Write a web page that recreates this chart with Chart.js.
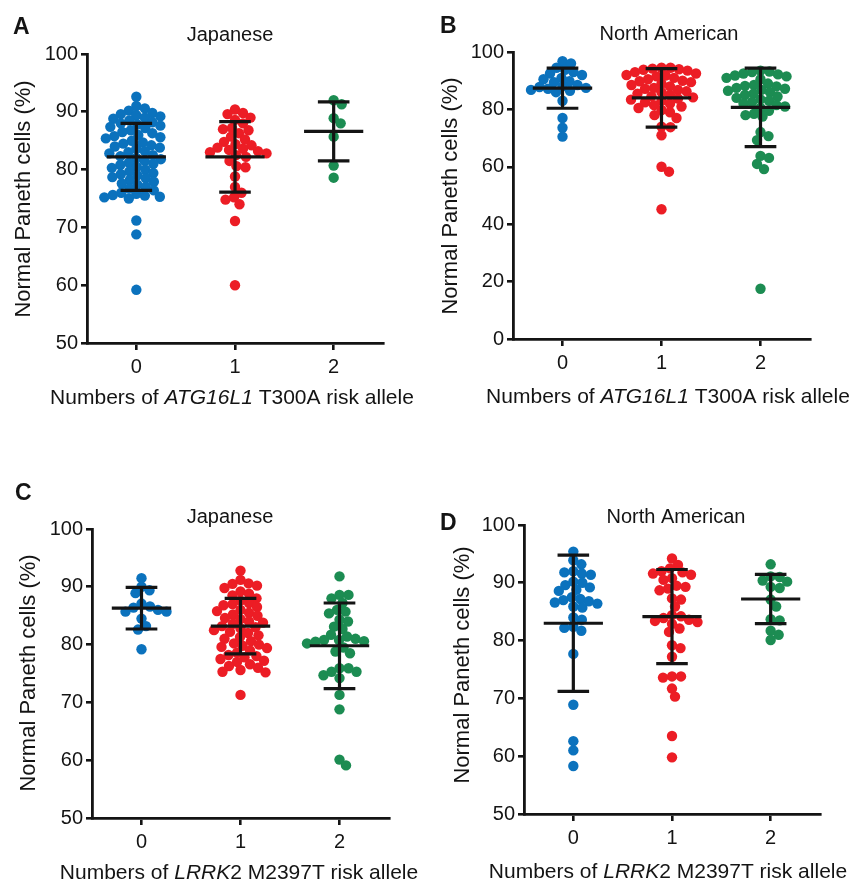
<!DOCTYPE html>
<html>
<head>
<meta charset="utf-8">
<script src="https://cdn.jsdelivr.net/npm/chart.js@4.4.1/dist/chart.umd.min.js"></script>
<style>
  html, body { margin: 0; padding: 0; background: #ffffff; }
  body { position: relative; width: 866px; height: 884px; overflow: hidden; }
  canvas { position: absolute; }
</style>
</head>
<body>
<canvas id="cA" width="433" height="440" style="left:0px;top:0px;width:433px;height:440px"></canvas>
<canvas id="cB" width="433" height="440" style="left:433px;top:0px;width:433px;height:440px"></canvas>
<canvas id="cC" width="433" height="444" style="left:0px;top:440px;width:433px;height:444px"></canvas>
<canvas id="cD" width="433" height="444" style="left:433px;top:440px;width:433px;height:444px"></canvas>
<script>
// ---------------- DATA ----------------
const categories = ['0', '1', '2'];
const yTitle = 'Normal Paneth cells (%)';
const yTicks5090 = [50, 100, 10];   // min, max, step (panels A, C, D)
const yTicks0100 = [0, 100, 20];    // min, max, step (panel B)

// Panel A – Japanese, ATG16L1 T300A
const A_allele0 = [92.6, 91.0, 90.6, 90.2, 89.8, 89.6, 89.4, 89.2, 89.0, 88.8,
  88.5, 88.2, 88.0, 87.8, 87.6, 87.4, 87.2, 86.8, 86.5, 86.3, 86.0, 85.8, 85.6, 85.4,
  85.0, 84.7, 84.5, 84.2, 84.0, 83.8, 83.6, 83.2, 83.0, 82.8, 82.5, 82.3, 82.0, 81.8,
  81.5, 81.2, 81.0, 80.8, 80.5, 80.3, 80.0, 79.7, 79.4, 79.2, 79.0, 78.7, 78.5, 78.2,
  77.9, 77.6, 77.4, 77.0, 76.7, 76.4, 76.0, 75.8, 75.6, 75.5, 75.3, 75.2, 75.0,
  71.2, 68.8, 59.2];
const A_allele1 = [90.4, 89.8, 89.6, 89.0, 88.6, 88.0, 87.2, 87.0, 86.8, 86.3, 85.7,
  85.2, 84.8, 84.4, 84.2, 83.8, 83.6, 83.4, 83.2, 83.0, 82.8, 82.5, 82.2, 81.5, 80.6,
  80.4, 78.8, 77.0, 76.0, 75.2, 74.8, 74.0, 71.1, 60.0];
const A_allele2 = [92.0, 91.3, 88.9, 88.0, 85.7, 80.7, 78.6];
const A_mean = [82.2, 82.2, 86.6];
const A_sd = [5.8, 6.1, 5.1];

// Panel B – North American, ATG16L1 T300A
const B_allele0 = [96.8, 96.0, 94.5, 93.8, 93.0, 92.5, 92.0, 91.0, 90.5, 89.8, 89.5,
  88.5, 88.0, 87.8, 87.5, 87.2, 86.8, 86.5, 86.0, 83.0, 77.0, 73.6, 70.5];
const B_allele1 = [94.5, 94.5, 94.2, 94.0, 93.8, 93.5, 93.0, 92.5, 92.0, 91.8, 91.5,
  91.0, 90.5, 90.0, 89.8, 89.5, 89.0, 88.5, 88.0, 87.5, 87.2, 86.8, 86.3, 86.0, 85.5,
  85.0, 84.6, 84.2, 83.8, 83.4, 83.0, 82.5, 82.0, 81.5, 81.0, 80.5, 79.8, 79.0, 78.0,
  77.0, 74.0, 73.8, 71.0, 60.0, 58.3, 45.2];
const B_allele2 = [93.5, 93.2, 93.0, 92.5, 92.2, 91.8, 91.5, 91.0, 90.5, 89.0, 88.5,
  88.2, 88.0, 87.5, 87.2, 86.8, 86.5, 86.0, 85.5, 85.0, 84.5, 84.0, 83.5, 83.0, 82.5,
  82.0, 81.5, 81.0, 80.5, 79.5, 78.5, 78.0, 77.5, 72.1, 70.7, 69.3, 63.8, 63.1, 61.0,
  59.2, 17.5];
const B_mean = [87.4, 84.0, 80.7];
const B_sd = [7.0, 10.2, 13.7];

// Panel C – Japanese, LRRK2 M2397T
const C_allele0 = [91.5, 90.0, 89.4, 88.9, 87.1, 86.6, 86.4, 86.0, 85.7, 85.7, 84.5,
  83.2, 82.6, 79.2];
const C_allele1 = [92.8, 91.2, 90.6, 90.5, 90.2, 89.8, 89.2, 88.8, 88.5, 88.0, 87.6,
  87.2, 87.0, 86.8, 86.5, 86.0, 85.8, 85.5, 85.2, 85.0, 84.6, 84.4, 84.0, 83.8, 83.6,
  83.2, 83.0, 82.8, 82.5, 82.2, 82.0, 81.6, 81.3, 81.0, 80.6, 80.2, 80.0, 79.8, 79.6,
  79.4, 79.0, 78.6, 78.2, 78.0, 77.8, 77.5, 77.2, 77.0, 76.6, 76.3, 76.0, 75.6, 75.3,
  75.2, 71.3];
const C_allele2 = [91.8, 88.6, 88.6, 88.0, 87.2, 86.0, 85.7, 85.4, 84.3, 84.0, 83.1,
  82.7, 81.7, 81.4, 81.0, 80.8, 80.8, 80.6, 80.5, 80.2, 79.5, 78.8, 78.5, 75.9, 75.9,
  75.3, 75.3, 74.7, 74.2, 71.3, 68.8, 60.1, 59.1];
const C_mean = [86.3, 83.2, 79.8];
const C_sd = [3.6, 4.8, 7.4];

// Panel D – North American, LRRK2 M2397T
const D_allele0 = [95.4, 93.9, 93.2, 92.0, 91.8, 91.6, 91.4, 90.2, 90.0, 89.6, 89.2,
  88.8, 88.6, 87.5, 87.2, 87.0, 86.8, 86.6, 86.4, 85.9, 85.7, 84.0, 83.6, 82.4, 82.2,
  81.7, 77.7, 68.9, 62.6, 61.0, 58.3];
const D_allele1 = [94.2, 93.1, 92.5, 92.0, 91.8, 91.6, 91.4, 90.8, 90.5, 89.5, 89.3,
  89.0, 88.7, 87.3, 87.1, 85.9, 84.4, 84.2, 83.9, 83.6, 83.4, 83.2, 82.9, 82.1, 81.5,
  79.2, 78.7, 77.2, 73.8, 73.8, 73.6, 71.7, 70.3, 63.5, 59.8];
const D_allele2 = [93.2, 91.1, 91.0, 90.4, 90.2, 89.3, 89.1, 87.1, 85.9, 83.7, 83.5,
  81.7, 81.0, 80.1];
const D_mean = [83.0, 84.15, 87.2];
const D_sd = [11.8, 8.15, 4.25];

// ---------------- STYLE ----------------
const FONT = "'Liberation Sans', Arial, Helvetica, sans-serif";
const INK = '#141414';
const groupColors = ['#0b72bd', '#ec1d25', '#1c8c52'];

const panelText = {
  id: 'panelText',
  afterDraw(chart, args, o) {
    const ctx = chart.ctx;
    ctx.save();
    ctx.fillStyle = INK;
    // panel letter
    ctx.font = 'bold 23px ' + FONT;
    ctx.textAlign = 'left';
    ctx.textBaseline = 'alphabetic';
    ctx.fillText(o.letter, o.letterX, o.letterY);
    // title
    ctx.font = '20px ' + FONT;
    ctx.textAlign = 'center';
    ctx.textBaseline = 'middle';
    ctx.fillText(o.title, o.titleX, o.titleY);
    // y title
    ctx.save();
    ctx.translate(o.yTitleX, o.yTitleY);
    ctx.rotate(-Math.PI / 2);
    ctx.font = '22px ' + FONT;
    ctx.fillText(yTitle, 0, 0);
    ctx.restore();
    // x title with italic gene name
    const size = 21;
    let total = 0;
    const parts = o.xTitle.map(p => {
      ctx.font = (p[1] ? 'italic ' : '') + size + 'px ' + FONT;
      const w = ctx.measureText(p[0]).width;
      total += w;
      return [p[0], p[1], w];
    });
    let x = o.xTitleX - total / 2;
    ctx.textAlign = 'left';
    parts.forEach(p => {
      ctx.font = (p[1] ? 'italic ' : '') + size + 'px ' + FONT;
      ctx.fillText(p[0], x, o.xTitleY);
      x += p[2];
    });
    ctx.restore();
  }
};

function errorBarData(means, sds) {
  const pts = [];
  means.forEach((m, i) => {
    const s = sds[i];
    pts.push({x: i - 0.3, y: m}, {x: i + 0.3, y: m}, {x: i, y: null});
    pts.push({x: i - 0.16, y: m + s}, {x: i + 0.16, y: m + s}, {x: i, y: null});
    pts.push({x: i - 0.16, y: m - s}, {x: i + 0.16, y: m - s}, {x: i, y: null});
    pts.push({x: i, y: m - s}, {x: i, y: m + s}, {x: i, y: null});
  });
  return pts;
}

function makePanel(id, groups, means, sds, yRange, box, text) {
  const canvas = document.getElementById(id);
  const W = canvas.width, H = canvas.height;
  const datasets = groups.map((vals, g) => ({
    type: 'scatter',
    data: vals.map(v => ({x: g, y: v})),
    backgroundColor: groupColors[g],
    borderWidth: 0,
    pointRadius: 5.2,
    pointHoverRadius: 5.2,
    order: 2
  }));
  datasets.push({
    type: 'scatter',
    data: errorBarData(means, sds),
    showLine: true,
    spanGaps: false,
    borderColor: INK,
    borderWidth: 3.2,
    borderCapStyle: 'butt',
    pointRadius: 0,
    pointHoverRadius: 0,
    order: 0
  });
  const tickFont = {family: FONT, size: 20};
  const chart = new Chart(canvas, {
    type: 'scatter',
    data: {datasets},
    plugins: [panelText],
    options: {
      responsive: false,
      animation: false,
      events: [],
      layout: {padding: {left: 0, top: box.T, right: W - box.R, bottom: 0}},
      plugins: {
        legend: {display: false},
        tooltip: {enabled: false},
        title: {display: false},
        panelText: text
      },
      scales: {
        x: {
          type: 'linear', min: -0.5, max: 2.5,
          afterBuildTicks: s => { s.ticks = categories.map((c, i) => ({value: i})); },
          afterFit: s => { s.height = H - box.B; },
          ticks: {callback: v => categories[v], font: tickFont, color: INK, padding: 5, maxRotation: 0},
          grid: {drawOnChartArea: false, drawTicks: true, tickLength: 7, lineWidth: 2.6, color: INK},
          border: {display: true, color: INK, width: 2.8}
        },
        y: {
          min: yRange[0], max: yRange[1],
          afterFit: s => { s.width = box.L; },
          ticks: {stepSize: yRange[2], font: tickFont, color: INK, padding: 3},
          grid: {drawOnChartArea: false, drawTicks: true, tickLength: 6, lineWidth: 2.6, color: INK},
          border: {display: true, color: INK, width: 2.8}
        }
      }
    }
  });
  // Deterministic beeswarm layout (Prism-like scatter dot plot) in pixel space
  const xs = chart.scales.x, ys = chart.scales.y;
  const pxPerUnit = xs.getPixelForValue(1) - xs.getPixelForValue(0);
  const minDist = 8.6;
  groups.forEach((vals, g) => {
    const order = vals.map((v, i) => i).sort((a, b) => vals[b] - vals[a]);
    const placed = [];
    const offs = new Array(vals.length).fill(0);
    order.forEach(i => {
      const py = ys.getPixelForValue(vals[i]);
      let chosen = 0;
      for (let k = 0; k < 400; k++) {
        const cand = (k === 0) ? 0 : ((k % 2 === 1) ? 1 : -1) * Math.ceil(k / 2) * 0.5;
        let ok = true;
        for (const p of placed) {
          const dx = cand - p[0], dy = py - p[1];
          if (dx * dx + dy * dy < minDist * minDist) { ok = false; break; }
        }
        if (ok) { chosen = cand; break; }
      }
      placed.push([chosen, py]);
      offs[i] = chosen / pxPerUnit;
    });
    chart.data.datasets[g].data = vals.map((v, i) => ({x: g + offs[i], y: v}));
  });
  chart.update('none');
  return chart;
}

makePanel('cA', [A_allele0, A_allele1, A_allele2], A_mean, A_sd, yTicks5090,
  {L: 87, R: 383, T: 54, B: 343},
  {letter: 'A', letterX: 13, letterY: 34, title: 'Japanese', titleX: 230, titleY: 35,
   yTitleX: 24, yTitleY: 199, xTitleX: 232, xTitleY: 398,
   xTitle: [['Numbers of ', false], ['ATG16L1', true], [' T300A risk allele', false]]});

makePanel('cB', [B_allele0, B_allele1, B_allele2], B_mean, B_sd, yTicks0100,
  {L: 80, R: 377, T: 52, B: 339},
  {letter: 'B', letterX: 7, letterY: 33, title: 'North American', titleX: 236, titleY: 34,
   yTitleX: 18, yTitleY: 196, xTitleX: 235, xTitleY: 397,
   xTitle: [['Numbers of ', false], ['ATG16L1', true], [' T300A risk allele', false]]});

makePanel('cC', [C_allele0, C_allele1, C_allele2], C_mean, C_sd, yTicks5090,
  {L: 92, R: 389, T: 89, B: 378},
  {letter: 'C', letterX: 15, letterY: 60, title: 'Japanese', titleX: 230, titleY: 77,
   yTitleX: 29, yTitleY: 233, xTitleX: 239, xTitleY: 433,
   xTitle: [['Numbers of ', false], ['LRRK', true], ['2 M2397T risk allele', false]]});

makePanel('cD', [D_allele0, D_allele1, D_allele2], D_mean, D_sd, yTicks5090,
  {L: 91, R: 387, T: 85, B: 374},
  {letter: 'D', letterX: 7, letterY: 90, title: 'North American', titleX: 243, titleY: 77,
   yTitleX: 30, yTitleY: 225, xTitleX: 235, xTitleY: 432,
   xTitle: [['Numbers of ', false], ['LRRK', true], ['2 M2397T risk allele', false]]});
</script>
</body>
</html>
